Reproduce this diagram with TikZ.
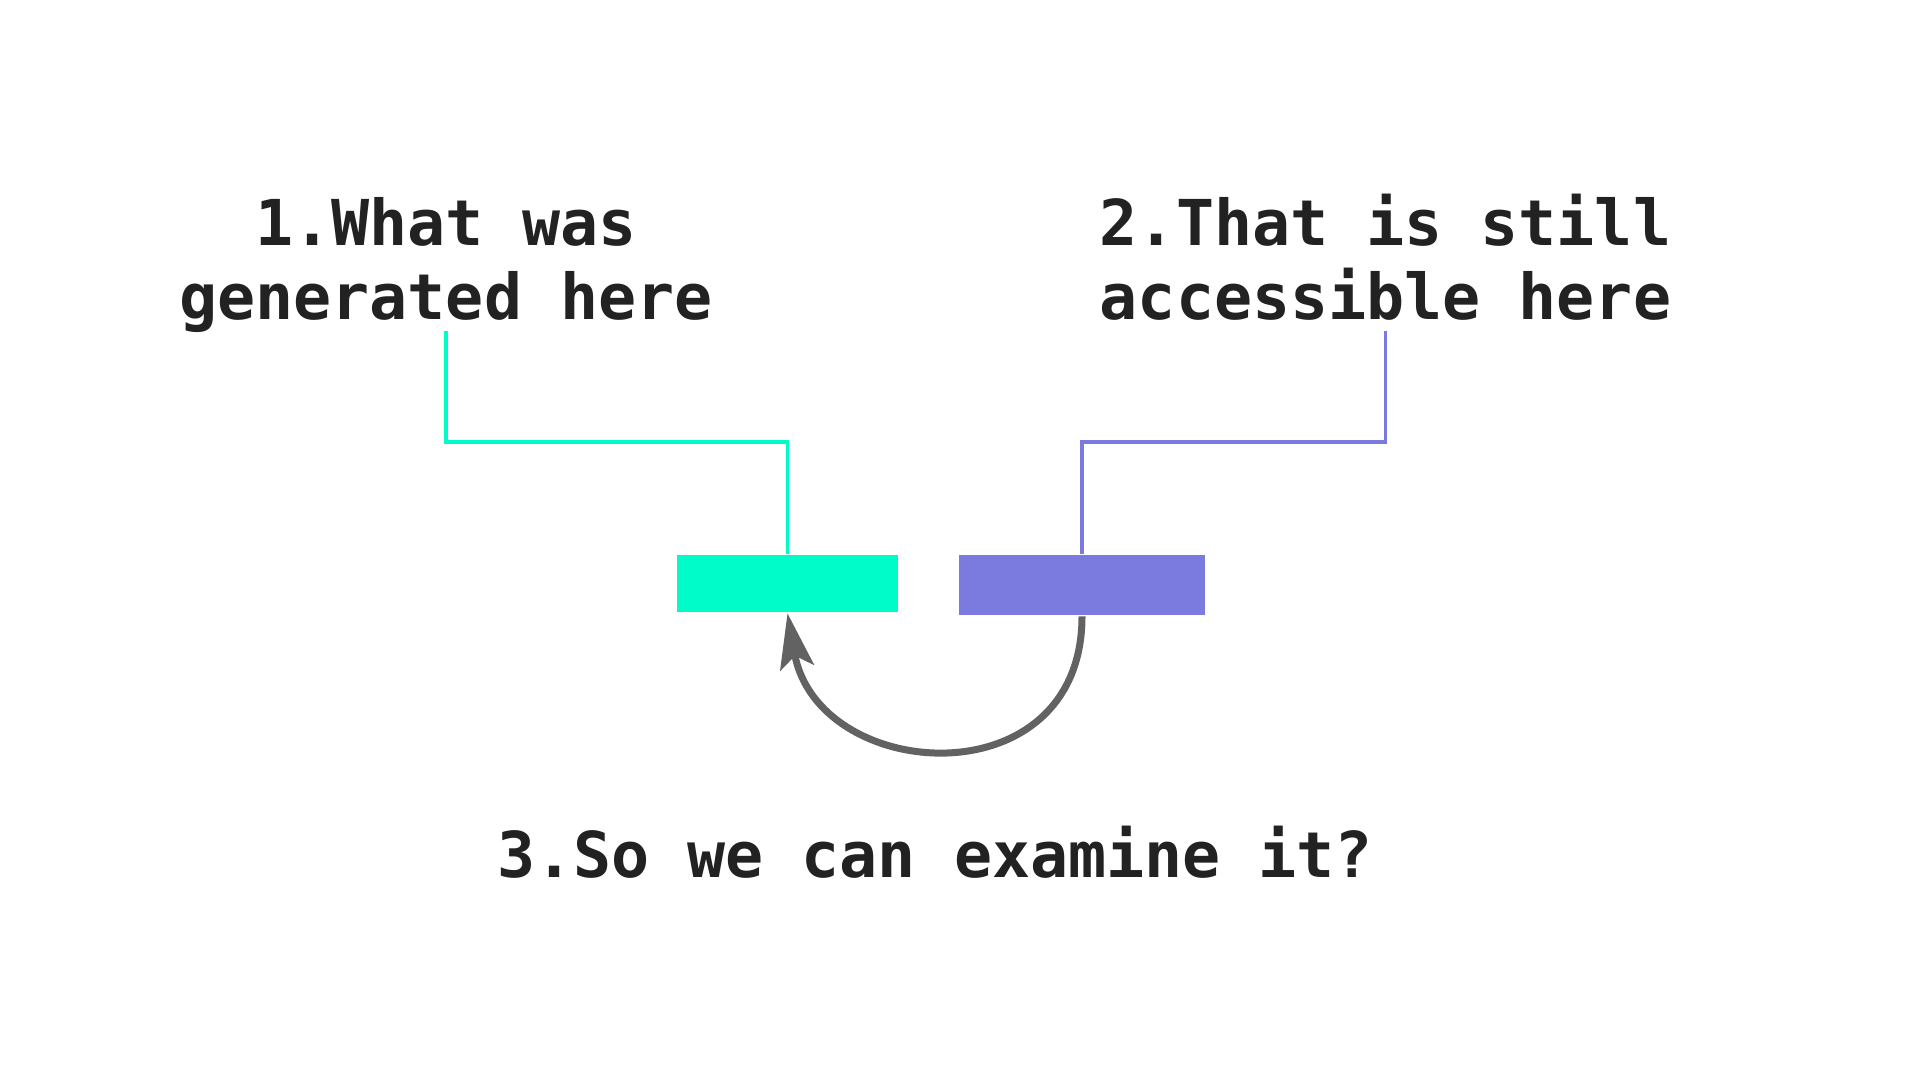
\documentclass[tikz,border=0pt]{standalone}
\usepackage{fontspec}
\setmonofont{DejaVu Sans Mono}
\usepackage{tikz}
\usetikzlibrary{arrows.meta, positioning}

\definecolor{genteal}{RGB}{0,252,200}
\definecolor{accpurple}{RGB}{123,123,223}
\definecolor{loopgray}{RGB}{98,98,98}
\definecolor{inkdark}{RGB}{34,34,34}

\begin{document}
\begin{tikzpicture}[>=Stealth, thick]

    % Define the styles
    \tikzstyle{label} = [inner sep=0pt, align=center, text=inkdark, font=\ttfamily\bfseries\fontsize{18pt}{21pt}\selectfont]
    \tikzstyle{bar} = [rectangle, inner sep=0pt, draw=none]
    \tikzstyle{genline} = [draw=genteal, line width=0.035cm]
    \tikzstyle{accline} = [draw=accpurple, line width=0.035cm]
    \tikzstyle{loopback} = [-{Stealth[length=0.55cm, width=0.34cm, inset=0.12cm]}, draw=loopgray, line width=0.07cm]

    \fill[white] (0,0) rectangle (19.2,10.8);
    \useasboundingbox (0,0) rectangle (19.2,10.8);

    % Nodes
    \node (gen) [label, anchor=south, text depth=0.1cm] at (4.46,7.49) {1.What was\\generated here};
    \node (acc) [label, anchor=south, text depth=0.1cm] at (13.855,7.49) {2.That is still\\accessible here};
    \node (exam) [label, anchor=base] at (9.35,2.02) {3.So we can examine it?};

    \node (genbox) [bar, fill=genteal, minimum width=2.21cm, minimum height=0.57cm] at (7.875,4.965) {};
    \node (accbox) [bar, fill=accpurple, minimum width=2.46cm, minimum height=0.60cm] at (10.82,4.95) {};

    % Arrows
    \draw [genline] (gen.south) -- ++(0,-1.11) -| (genbox.north);
    \draw [accline] (acc.south) -- ++(0,-1.11) -| (accbox.north);

    % Curved arrow back from the purple bar to the teal bar
    \draw [loopback] (accbox.south) .. controls +(0,-1.85) and +(0.3,-1.7) .. (genbox.south);

\end{tikzpicture}
\end{document}
